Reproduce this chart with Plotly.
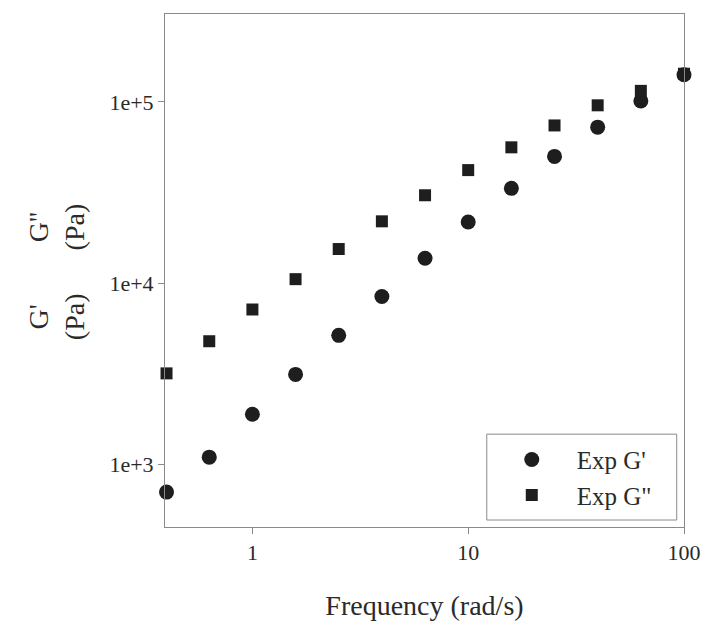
import plotly.graph_objects as go

freq = [0.4, 0.631, 1.0, 1.585, 2.512, 3.981, 6.31, 10.0, 15.85, 25.12, 39.81, 63.1, 100.0]
g_prime = [701, 1093, 1885, 3130, 5140, 8430, 13700, 21700, 33300, 50000, 72500, 101000, 141000]
g_dprime = [3170, 4770, 7140, 10500, 15400, 21900, 30500, 42000, 56100, 74100, 95700, 115000, 143000]

x_ticks = [1, 10, 100]
x_ticklabels = ["1", "10", "100"]
y_ticks = [1e3, 1e4, 1e5]
y_ticklabels = ["1e+3", "1e+4", "1e+5"]

FONT = "Liberation Serif"
INK = "#1e1e1e"
TXT = "#2a2a2a"
FRAME = "#8a8a8a"

fig = go.Figure()
fig.add_trace(go.Scatter(x=freq, y=g_prime, mode="markers", name="Exp G'", cliponaxis=False,
                         marker=dict(symbol="circle", size=15, color=INK)))
fig.add_trace(go.Scatter(x=freq, y=g_dprime, mode="markers", name='Exp G"', cliponaxis=False,
                         marker=dict(symbol="square", size=12, color=INK)))

axis_common = dict(type="log", showgrid=False, zeroline=False, showline=True,
                   linecolor=FRAME, linewidth=1, mirror=True,
                   ticks="outside", ticklen=6, tickcolor=FRAME,
                   tickfont=dict(family=FONT, size=22, color=TXT))

fig.update_xaxes(**axis_common, range=[-0.405, 2.0], tickvals=x_ticks, ticktext=x_ticklabels,
                 title=dict(text="Frequency (rad/s)", font=dict(family=FONT, size=28, color=TXT),
                            standoff=30))
fig.update_yaxes(**axis_common, range=[2.653, 5.485], tickvals=y_ticks, ticktext=y_ticklabels)

fig.add_annotation(xref="paper", yref="paper", x=-0.21, y=0.409, text="G'<br>(Pa)",
                   xanchor="center", yanchor="middle",
                   textangle=-90, showarrow=False,
                   font=dict(family=FONT, size=28, color=TXT))
fig.add_annotation(xref="paper", yref="paper", x=-0.21, y=0.584, text="G''<br>(Pa)",
                   xanchor="center", yanchor="middle",
                   textangle=-90, showarrow=False,
                   font=dict(family=FONT, size=28, color=TXT))

# legend frame
fig.add_shape(type="rect", xref="paper", yref="paper",
              x0=0.620, x1=0.986, y0=0.0136, y1=0.181,
              line=dict(color=FRAME, width=1), fillcolor="white", layer="below")

fig.update_layout(
    width=703, height=624,
    margin=dict(l=165, r=19, t=14, b=97, autoexpand=False),
    paper_bgcolor="white", plot_bgcolor="rgba(0,0,0,0)",
    showlegend=True,
    legend=dict(x=0.620, y=0.097, xanchor="left", yanchor="middle",
                bgcolor="rgba(0,0,0,0)", borderwidth=0,
                font=dict(family=FONT, size=25, color=TXT),
                itemwidth=80, tracegroupgap=0),
)

fig.write_html("out.html", config={"displayModeBar": False},
               post_script="document.body.style.margin='0';document.body.style.overflow='hidden';")
